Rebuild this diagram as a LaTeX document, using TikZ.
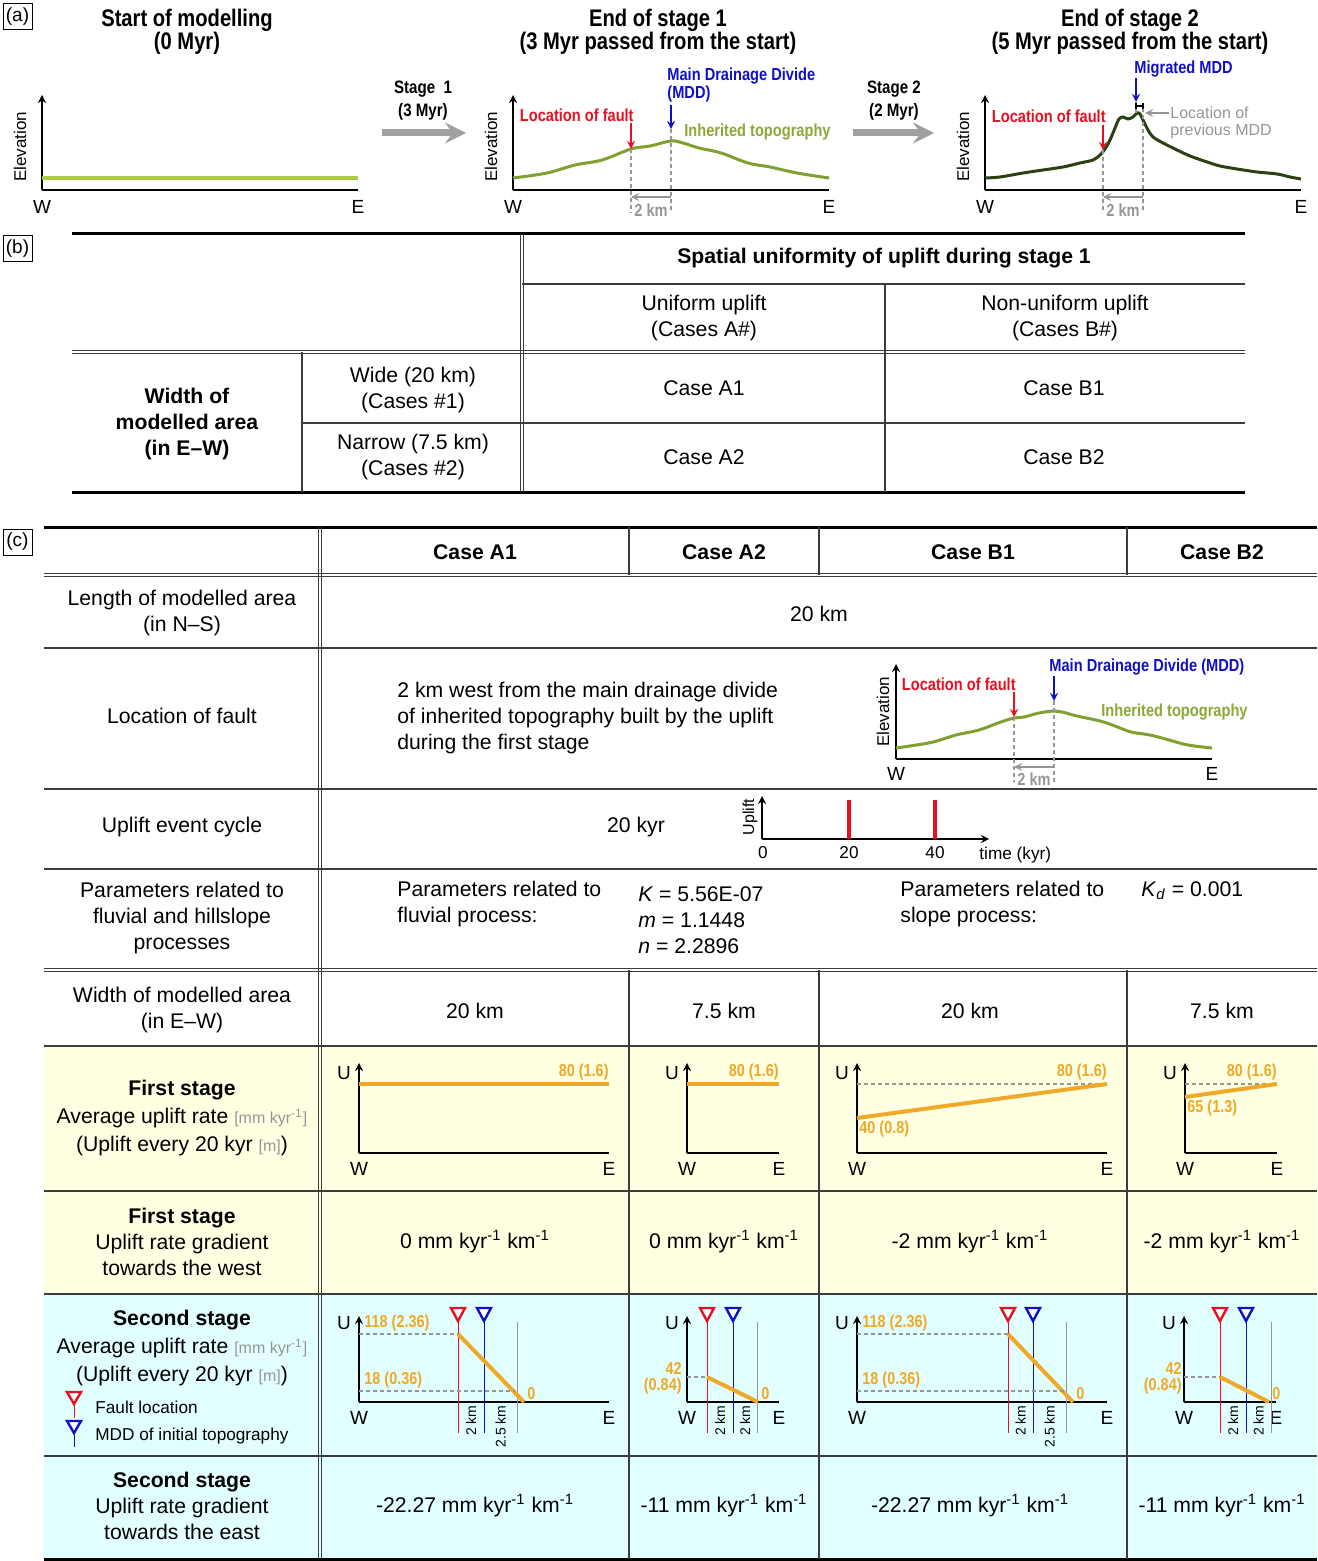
\documentclass[tikz,border=0pt]{standalone}
\usepackage{fontspec}
\setmainfont{Liberation Sans}
\newfontfamily\narrowsf[FakeStretch=0.84]{Liberation Sans}
\usepackage{tikz}
\usetikzlibrary{calc}
\usetikzlibrary{positioning}

\definecolor{flatgreen}{RGB}{170,204,66}
\definecolor{oldgreen}{RGB}{128,160,48}
\definecolor{newgreen}{RGB}{42,66,18}
\definecolor{oldtxt}{RGB}{138,168,52}
\definecolor{faultred}{RGB}{232,16,32}
\definecolor{mddblue}{RGB}{16,16,200}
\definecolor{upl}{RGB}{240,168,40}
\definecolor{yellowbg}{RGB}{255,255,226}
\definecolor{cyanbg}{RGB}{226,255,255}
\definecolor{unitgray}{RGB}{150,150,150}
\definecolor{rulegray}{RGB}{60,60,60}
\definecolor{arrowgray}{RGB}{160,160,160}

\begin{document}
\begin{tikzpicture}[>=stealth,x=0.5pt,y=-0.5pt,
    every node/.style={inner sep=0pt,align=center},
    body/.style={font=\fontsize{10.6}{13}\selectfont},
    bodyb/.style={font=\bfseries\fontsize{10.6}{13}\selectfont},
    ttl/.style={font=\narrowsf\bfseries\fontsize{12}{11.5}\selectfont},
    stg/.style={font=\narrowsf\bfseries\fontsize{9}{11.5}\selectfont},
    tag/.style={font=\narrowsf\bfseries\fontsize{8.7}{9}\selectfont},
    val/.style={font=\narrowsf\bfseries\fontsize{8.6}{8}\selectfont,text=upl},
    axlbl/.style={font=\fontsize{9.5}{10}\selectfont},
    elev/.style={font=\fontsize{8.5}{9}\selectfont,rotate=90},
    kmlbl/.style={font=\fontsize{7}{7}\selectfont,rotate=90,anchor=east},
    legend/.style={font=\fontsize{8.6}{9}\selectfont,anchor=west},
    panel/.style={draw,line width=0.5pt,font=\fontsize{9.5}{10}\selectfont,
      minimum width=14.5pt,minimum height=13pt},
    axis/.style={line width=0.8pt},
    rule/.style={line width=1.5pt},
    hair/.style={line width=0.6pt,draw=rulegray},
    meas/.style={draw=unitgray,line width=0.8pt},
    upline/.style={draw=upl,line width=2pt},
    guide/.style={draw=unitgray,dash pattern=on 2pt off 1.5pt,line width=0.6pt},
    stagearrow/.style={draw=arrowgray,line width=3.5pt},
  ]
  \useasboundingbox (0,0) rectangle (1317,1561);

  \node[panel] (pa) at (17.5,17) {(a)};
  \node[panel] (pb) at (17.5,249) {(b)};
  \node[panel] (pc) at (17.5,542) {(c)};

  % (a) three profiles
  \node[ttl] (ttl0) at (187,32) {Start of modelling\\(0 Myr)};
  \node[ttl] (ttl1) at (658,32) {End of stage 1\\(3 Myr passed from the start)};
  \node[ttl] (ttl2) at (1130,32) {End of stage 2\\(5 Myr passed from the start)};

  \foreach \x/\n in {42/0,513/1,985/2} {
    \coordinate (o\n) at (\x,190);
    \coordinate (y\n) at (\x,95);
    \coordinate (x\n) at (\x+316,190);
    \draw[axis,->] (o\n) -- (y\n);
    \draw[axis] (o\n) -- (x\n);
    \node[axlbl] (w\n) at (\x,207) {W};
    \node[axlbl] (e\n) at (\x+316,207) {E};
    \node[elev] (el\n) at (\x-22,147) {Elevation};
  }

  \draw[flatgreen,line width=1.6pt] (42,178) -- (358,178);

  \coordinate (s1a) at (382,133);
  \coordinate (s1b) at (466,133);
  \draw[stagearrow,->] (s1a) -- (s1b);
  \node[stg] (s1) at (423,101) {Stage\ \ 1\\(3 Myr)};
  \coordinate (s2a) at (853,133);
  \coordinate (s2b) at (934,133);
  \draw[stagearrow,->] (s2a) -- (s2b);
  \node[stg] (s2) at (894,101) {Stage 2\\(2 Myr)};

  % end of stage 1
  \draw[oldgreen,line width=1.5pt] plot[smooth,tension=0.6] coordinates {(513,178) (547,173)
    (575,165) (602,160) (631,149) (650,146) (671,141) (683,143) (699,148) (721,153)
    (748,163) (770,167) (797,173) (829,178)};
  \coordinate (f1) at (631,149);
  \coordinate (f1top) at (631,123);
  \coordinate (f1bot) at (631,213);
  \coordinate (m1) at (671,129);
  \coordinate (m1top) at (671,105);
  \coordinate (m1bot) at (671,213);
  \draw[guide] (f1) -- (f1bot);
  \draw[guide] (m1) -- (m1bot);
  \draw[faultred,line width=0.8pt,->] (f1top) -- (f1);
  \draw[mddblue,line width=0.8pt,->] (m1top) -- (m1);
  \coordinate (k1a) at (671,197);
  \coordinate (k1b) at (631,197);
  \draw[meas,->] (k1a) -- (k1b);
  \node[tag,text=unitgray] (km1) at (651,210) {2 km};
  \node[tag,text=faultred,anchor=east] (lf1) at (634,115) {Location of fault};
  \node[tag,text=mddblue,anchor=west,align=left] (md1) at (667,85) {Main Drainage Divide\\(MDD)};
  \node[tag,text=oldtxt,anchor=west] (it1) at (684,132) {Inherited topography};

  % end of stage 2
  \draw[newgreen,line width=1.5pt] plot[smooth,tension=0.5] coordinates {(985,178) (1000,177)
    (1023,173) (1043,170) (1063,167) (1080,163) (1093,160) (1100,155) (1105,149) (1110,140)
    (1115,128) (1119,119) (1123,117) (1128,119) (1133,117) (1137,113) (1140,114) (1143,120)
    (1148,130) (1153,137) (1163,143) (1177,150) (1190,156) (1207,162) (1220,166) (1237,169)
    (1257,172) (1277,174) (1290,177) (1301,179)};
  \coordinate (f2) at (1103,150);
  \coordinate (f2top) at (1103,125);
  \coordinate (f2bot) at (1103,213);
  \coordinate (m2) at (1136,102);
  \coordinate (m2top) at (1136,78);
  \coordinate (m2pk) at (1136,114);
  \coordinate (p2) at (1143,108);
  \coordinate (p2bot) at (1143,213);
  \draw[guide] (f2) -- (f2bot);
  \draw[guide] (p2) -- (p2bot);
  \draw[guide] (m2) -- (m2pk);
  \draw[faultred,line width=0.8pt,->] (f2top) -- (f2);
  \draw[mddblue,line width=0.8pt,->] (m2top) -- (m2);
  \draw[line width=0.6pt] (1136,103) -- (1136,109) (1136,106) -- (1143,106) (1143,103) -- (1143,109);
  \coordinate (pm2a) at (1169,113);
  \coordinate (pm2b) at (1145,113);
  \draw[meas,->] (pm2a) -- (pm2b);
  \node[font=\fontsize{8}{8.5}\selectfont,text=unitgray,anchor=west,align=left] (pmd2) at (1170,123) {Location of\\previous MDD};
  \coordinate (k2a) at (1143,197);
  \coordinate (k2b) at (1103,197);
  \draw[meas,->] (k2a) -- (k2b);
  \node[tag,text=unitgray] (km2) at (1123,210) {2 km};
  \node[tag,text=faultred,anchor=east] (lf2) at (1106,116) {Location of fault};
  \node[tag,text=mddblue,anchor=west] (md2) at (1134,69) {Migrated MDD};

  % (b) table
  \draw[rule] (72,234) -- (1245,234);
  \draw[rule] (72,492) -- (1245,492);
  \foreach \d in {-1.5,1.5} {
    \draw[hair] (522+\d,234) -- (522+\d,492);
    \draw[hair] (72,352+\d) -- (1245,352+\d);
  }
  \draw[hair] (522,284) -- (1245,284);
  \draw[hair] (885,284) -- (885,492);
  \draw[hair] (302,352) -- (302,492);
  \draw[hair] (302,423) -- (1245,423);

  \node[bodyb] (spat) at (884,258) {Spatial uniformity of uplift during stage 1};
  \node[body] (unif) at (704,318) {Uniform uplift\\(Cases A\#)};
  \node[body] (nonu) at (1065,318) {Non-uniform uplift\\(Cases B\#)};
  \node[bodyb] (wid) at (187,424) {Width of\\modelled area\\(in E--W)};
  \node[body] (wide) at (413,390) {Wide (20 km)\\(Cases \#1)};
  \node[body] (narr) at (413,457) {Narrow (7.5 km)\\(Cases \#2)};
  \node[body] (cA1) at (704,388) {Case A1};
  \node[body] (cB1) at (1064,388) {Case B1};
  \node[body] (cA2) at (704,457) {Case A2};
  \node[body] (cB2) at (1064,457) {Case B2};

  % (c) table
  \fill[yellowbg] (44,1046) rectangle (1317,1294);
  \fill[cyanbg] (44,1294) rectangle (1317,1559);
  \draw[rule] (44,527) -- (1317,527);
  \draw[rule] (44,1559) -- (1317,1559);
  \foreach \d in {-1.5,1.5} {
    \draw[hair] (320+\d,527) -- (320+\d,1559);
    \draw[hair] (44,575+\d) -- (1317,575+\d);
    \draw[hair] (44,970+\d) -- (1317,970+\d);
  }
  \foreach \y in {648,789,869,1046,1191,1294,1456}
    \draw[hair] (44,\y) -- (1317,\y);
  \foreach \x in {629,819,1127} {
    \draw[hair] (\x,527) -- (\x,575);
    \draw[hair] (\x,970) -- (\x,1559);
  }

  \foreach \x/\t [count=\i] in {475/Case A1,724/Case A2,973/Case B1,1222/Case B2}
    \node[bodyb] (hd\i) at (\x,552) {\t};

  \node[body] (lenl) at (182,613) {Length of modelled area\\(in N--S)};
  \node[body] (lenv) at (819,614) {20 km};

  \node[body] (locl) at (182,716) {Location of fault};
  \node[body,anchor=west,align=left] (locv) at (397,718) {2 km west from the main drainage divide\\of inherited topography built by the uplift\\during the first stage};

  % small profile of the fault location
  \coordinate (o3) at (896,759);
  \coordinate (y3) at (896,664);
  \coordinate (x3) at (1212,759);
  \draw[axis,->] (o3) -- (y3);
  \draw[axis] (o3) -- (x3);
  \node[axlbl] (w3) at (896,774) {W};
  \node[axlbl] (e3) at (1212,774) {E};
  \node[elev] (el3) at (883,712) {Elevation};
  \draw[oldgreen,line width=1.5pt] plot[smooth,tension=0.6] coordinates {(896,748) (910,746)
    (933,742) (956,735) (979,730) (998,723) (1014,718) (1024,717) (1039,713) (1054,711)
    (1062,712) (1077,716) (1100,721) (1115,726) (1131,732) (1150,735) (1169,740) (1188,745)
    (1212,748)};
  \coordinate (f3) at (1014,717);
  \coordinate (f3top) at (1014,692);
  \coordinate (f3bot) at (1014,782);
  \coordinate (m3) at (1054,701);
  \coordinate (m3top) at (1054,676);
  \coordinate (m3bot) at (1054,782);
  \draw[guide] (f3) -- (f3bot);
  \draw[guide] (m3) -- (m3bot);
  \draw[faultred,line width=0.8pt,->] (f3top) -- (f3);
  \draw[mddblue,line width=0.8pt,->] (m3top) -- (m3);
  \coordinate (k3a) at (1054,767);
  \coordinate (k3b) at (1014,767);
  \draw[meas,->] (k3a) -- (k3b);
  \node[tag,text=unitgray] (km3) at (1034,779) {2 km};
  \node[tag,text=faultred,anchor=east] (lf3) at (1016,684) {Location of fault};
  \node[tag,text=mddblue,anchor=west] (md3) at (1049,667) {Main Drainage Divide (MDD)};
  \node[tag,text=oldtxt,anchor=west] (it3) at (1101,712) {Inherited topography};

  \node[body] (cycl) at (182,827) {Uplift event cycle};
  \node[body] (cycv) at (636,827) {20 kyr};
  \coordinate (o4) at (762,839);
  \coordinate (y4) at (762,796);
  \coordinate (x4) at (989,839);
  \draw[axis,->] (o4) -- (y4);
  \draw[axis,->] (o4) -- (x4);
  \node[elev,font=\fontsize{8}{8}\selectfont] (upl4) at (750,817) {Uplift};
  \foreach \x/\t [count=\i] in {763/0,849/20,935/40}
    \node[font=\fontsize{8.6}{9}\selectfont] (tk\i) at (\x,853) {\t};
  \foreach \x in {849,935}
    \draw[faultred,line width=2.3pt] (\x,800) -- (\x,839);
  \node[font=\fontsize{8.6}{9}\selectfont,anchor=west] (tkl) at (979,855) {time (kyr)};

  \node[body] (parl) at (182,918) {Parameters related to\\fluvial and hillslope\\processes};
  \node[body,anchor=west,align=left] (parf) at (397,904) {Parameters related to\\fluvial process:};
  \node[body,anchor=west,align=left] (parfv) at (638,920) {\textit{K} = 5.56E-07\\\textit{m} = 1.1448\\\textit{n} = 2.2896};
  \node[body,anchor=west,align=left] (pars) at (900,904) {Parameters related to\\slope process:};
  \node[body,anchor=west] (parsv) at (1141,891) {\textit{K}\textsubscript{\textit{d}} = 0.001};

  \node[body] (widl) at (182,1010) {Width of modelled area\\(in E--W)};
  \foreach \x/\t [count=\i] in {475/20 km,724/7.5 km,970/20 km,1222/7.5 km}
    \node[body] (wv\i) at (\x,1011) {\t};

  % first stage
  \node[body,font=\fontsize{10.6}{14}\selectfont] (fs1l) at (182,1118) {\textbf{First stage}\\Average uplift rate {\color{unitgray}\fontsize{8}{14}\selectfont[mm kyr\textsuperscript{-1}]}\\(Uplift every 20 kyr {\color{unitgray}\fontsize{8}{14}\selectfont[m]})};
  \foreach \x/\w/\n in {359/250/A1,687/92/A2,857/250/B1,1185/92/B2} {
    \coordinate (fo\n) at (\x,1153);
    \coordinate (fu\n) at (\x,1063);
    \coordinate (fe\n) at (\x+\w,1153);
    \draw[axis,->] (fo\n) -- (fu\n);
    \draw[axis] (fo\n) -- (fe\n);
    \node[axlbl] (fU\n) at (\x-15,1073) {U};
    \node[axlbl] (fW\n) at (\x,1169) {W};
    \node[axlbl] (fE\n) at (\x+\w,1169) {E};
    \node[val,anchor=east] (f80\n) at (\x+\w,1072) {80 (1.6)};
  }
  \draw[guide] (857,1084) -- (1107,1084);
  \draw[guide] (1185,1084) -- (1277,1084);
  \draw[upline] (359,1084) -- (609,1084);
  \draw[upline] (687,1084) -- (779,1084);
  \draw[upline] (857,1118) -- (1107,1084);
  \draw[upline] (1185,1097) -- (1277,1084);
  \node[val,anchor=west] (f40) at (859,1129) {40 (0.8)};
  \node[val,anchor=west] (f65) at (1187,1108) {65 (1.3)};

  \node[body] (fs2l) at (182,1242) {\textbf{First stage}\\Uplift rate gradient\\towards the west};
  \foreach \x/\t [count=\i] in {475/0,724/0,970/-2,1222/-2}
    \node[body] (gw\i) at (\x,1242) {\t{} mm kyr\textsuperscript{-1} km\textsuperscript{-1}};

  % second stage
  \node[body,font=\fontsize{10.6}{14}\selectfont] (ss1l) at (182,1348) {\textbf{Second stage}\\Average uplift rate {\color{unitgray}\fontsize{8}{14}\selectfont[mm kyr\textsuperscript{-1}]}\\(Uplift every 20 kyr {\color{unitgray}\fontsize{8}{14}\selectfont[m]})};
  \draw[faultred,line width=0.5pt] (74,1404) -- (74,1418);
  \draw[faultred,line width=1.2pt,fill=white] (67,1392) -- (81,1392) -- (74,1404) -- cycle;
  \draw[mddblue,line width=0.5pt] (74,1433) -- (74,1447);
  \draw[mddblue,line width=1.2pt,fill=white] (67,1421) -- (81,1421) -- (74,1433) -- cycle;
  \node[legend] (lgf) at (95,1407) {Fault location};
  \node[legend] (lgm) at (95,1436) {MDD of initial topography};

  \foreach \x/\w/\n in {359/250/A1,687/92/A2,857/250/B1,1184/92/B2} {
    \coordinate (so\n) at (\x,1402);
    \coordinate (su\n) at (\x,1316);
    \coordinate (se\n) at (\x+\w,1402);
    \draw[axis,->] (so\n) -- (su\n);
    \draw[axis] (so\n) -- (se\n);
    \node[axlbl] (sU\n) at (\x-15,1323) {U};
    \node[axlbl] (sW\n) at (\x,1418) {W};
    \node[axlbl] (sE\n) at (\x+\w,1418) {E};
  }
  \foreach \o/\f/\m/\g/\t/\z/\k/\n in {359/458/484/517/1334/524/2.5 km/A1,
      687/707/733/757/1377/758/2 km/A2,857/1008/1033/1066/1334/1073/2.5 km/B1,
      1184/1220/1246/1271/1377/1269/2 km/B2} {
    \draw[guide] (\o,\t) -- (\f,\t);
    \draw[unitgray,line width=0.5pt] (\g,1322) -- (\g,1433);
    \draw[faultred,line width=0.5pt] (\f,1321) -- (\f,1433);
    \draw[mddblue,line width=0.5pt] (\m,1321) -- (\m,1433);
    \draw[faultred,line width=1.2pt,fill=white] (\f-7,1308) -- (\f+7,1308) -- (\f,1321) -- cycle;
    \draw[mddblue,line width=1.2pt,fill=white] (\m-7,1308) -- (\m+7,1308) -- (\m,1321) -- cycle;
    \draw[upline] (\f,\t) -- (\z,1402);
    \node[kmlbl] (ka\n) at ({(\f+\m)/2},1405) {2 km};
    \node[kmlbl] (kb\n) at ({(\m+\g)/2},1405) {\k};
    \node[val,anchor=west] (z\n) at (\z+3,1394) {0};
  }
  \draw[guide] (359,1391) -- (515,1391);
  \draw[guide] (857,1391) -- (1064,1391);
  \node[val,anchor=west] (s118A1) at (364,1323) {118 (2.36)};
  \node[val,anchor=west] (s18A1) at (364,1380) {18 (0.36)};
  \node[val,anchor=west] (s118B1) at (862,1323) {118 (2.36)};
  \node[val,anchor=west] (s18B1) at (862,1380) {18 (0.36)};
  \node[val,anchor=east,align=right] (s42A2) at (682,1378) {42\\(0.84)};
  \node[val,anchor=east,align=right] (s42B2) at (1182,1378) {42\\(0.84)};

  \node[body] (ss2l) at (182,1506) {\textbf{Second stage}\\Uplift rate gradient\\towards the east};
  \foreach \x/\t [count=\i] in {475/-22.27,724/-11,970/-22.27,1222/-11}
    \node[body] (ge\i) at (\x,1506) {\t{} mm kyr\textsuperscript{-1} km\textsuperscript{-1}};
\end{tikzpicture}
\end{document}
